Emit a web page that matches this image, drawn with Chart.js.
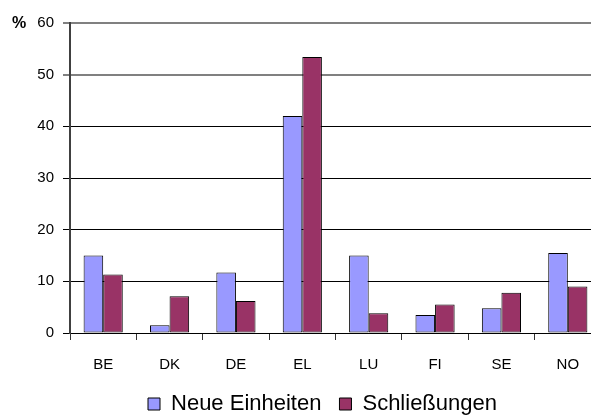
<!DOCTYPE html>
<html>
<head>
<meta charset="utf-8">
<script src="https://cdn.jsdelivr.net/npm/chart.js@4.4.0/dist/chart.umd.min.js"></script>
<style>
    html, body { margin: 0; padding: 0; background: #fff; overflow: hidden; }
    #wrap { width: 644px; height: 425px; }
</style>
</head>
<body>
<div id="wrap"><canvas id="chartSchliessungen"></canvas></div>
<script>
// Länder und Werte (in %)
const laender = ['BE', 'DK', 'DE', 'EL', 'LU', 'FI', 'SE', 'NO'];
const neueEinheiten = [15.0, 1.5, 11.7, 42.0, 15.0, 3.5, 4.8, 15.5];
const schliessungen = [11.3, 7.1, 6.2, 53.4, 3.8, 5.5, 7.8, 9.0];
const yTicks = [0, 10, 20, 30, 40, 50, 60];

const schrift = "'Liberation Sans', Arial, sans-serif";

// "%" links neben der 60
const prozentLabel = {
    id: 'prozentLabel',
    afterDraw(chart) {
        const ctx = chart.ctx;
        const y = chart.scales.y.getPixelForValue(60);
        ctx.save();
        ctx.font = 'bold 16px ' + schrift;
        ctx.fillStyle = '#000';
        ctx.textAlign = 'left';
        ctx.textBaseline = 'middle';
        ctx.fillText('%', 12, y + 1);
        ctx.restore();
    }
};

// Legende etwas nach rechts schieben (im Original nicht auf die Zeichenfläche zentriert)
const legendeVerschieben = {
    id: 'legendeVerschieben',
    afterLayout(chart) {
        if (!chart.legend) return;
        chart.legend.left += 22;
        chart.legend.right += 22;
    }
};

const ctx = document.getElementById('chartSchliessungen').getContext('2d');
new Chart(ctx, {
    type: 'bar',
    data: {
        labels: laender,
        datasets: [
            {
                label: 'Neue Einheiten',
                data: neueEinheiten,
                backgroundColor: '#9999FF',
                borderColor: '#000',
                borderWidth: 1,
                borderSkipped: false
            },
            {
                label: 'Schließungen',
                data: schliessungen,
                backgroundColor: '#993366',
                borderColor: '#000',
                borderWidth: 1,
                borderSkipped: false
            }
        ]
    },
    options: {
        responsive: true,
        maintainAspectRatio: false,
        animation: false,
        categoryPercentage: 0.59,
        barPercentage: 1.0,
        layout: { padding: { top: 23, right: 43, left: 0, bottom: 0 } },
        plugins: {
            tooltip: { enabled: false },
            legend: {
                position: 'bottom',
                labels: {
                    font: { family: schrift, size: 22 },
                    color: '#000',
                    boxWidth: 12,
                    boxHeight: 12,
                    padding: 18
                }
            }
        },
        scales: {
            x: {
                grid: {
                    offset: true,
                    drawOnChartArea: false,
                    tickLength: 7,
                    color: '#333'
                },
                border: { color: '#000', width: 1 },
                ticks: {
                    font: { family: schrift, size: 15 },
                    color: '#000',
                    padding: 16
                },
                afterFit: (scale) => { scale.height = 42; }
            },
            y: {
                min: 0,
                max: 60,
                afterBuildTicks: (scale) => { scale.ticks = yTicks.map(v => ({ value: v })); },
                grid: {
                    tickLength: 7,
                    color: (c) => (c.tick && c.tick.value >= 50 ? '#808080' : '#000'),
                    lineWidth: (c) => (c.tick && c.tick.value >= 50 ? 2 : 1)
                },
                border: { color: '#404040', width: 2 },
                ticks: {
                    font: { family: schrift, size: 15 },
                    color: '#000',
                    padding: 9
                },
                afterFit: (scale) => { scale.width = 70; }
            }
        }
    },
    plugins: [prozentLabel, legendeVerschieben]
});
</script>
</body>
</html>
